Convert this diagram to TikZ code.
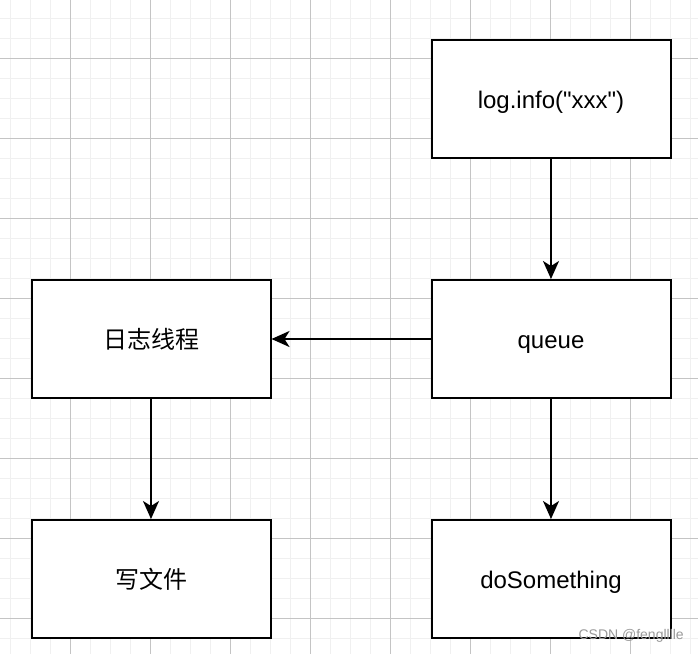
\documentclass[tikz,border=0pt]{standalone}
\usepackage{fontspec}
\setmainfont{Liberation Sans}[Ligatures=TeXOff]
\newfontfamily\cjk{Noto Sans CJK SC}
\usetikzlibrary{arrows.meta}
\definecolor{minorgrid}{HTML}{F0F0F0}
\definecolor{majorgrid}{HTML}{C4C4C4}
\definecolor{wmark}{HTML}{9A9A9A}
\begin{document}
\begin{tikzpicture}[x=1pt,y=-1pt,
  box/.style={draw=black,line width=2pt,fill=white,minimum width=239pt,minimum height=118pt,font=\fontsize{24}{28}\selectfont,inner sep=0pt,text height=19pt,text depth=1pt},
  conn/.style={draw=black,line width=2pt,-{Stealth[length=18pt,width=16pt,inset=5pt]}},
  minor/.style={draw=minorgrid,line width=1pt},
  major/.style={draw=majorgrid,line width=1pt}]
\useasboundingbox (0,0) rectangle (698,654);
\fill[white] (0,0) rectangle (698,654);
% minor grid
\foreach \x in {10,30,...,690} \draw[minor] (\x,0) -- (\x,654);
\foreach \y in {18,38,...,650} \draw[minor] (0,\y) -- (698,\y);
% major grid
\foreach \x in {70,150,...,690} \draw[major] (\x,0) -- (\x,654);
\foreach \y in {58,138,...,650} \draw[major] (0,\y) -- (698,\y);
% boxes
\node[box] (log) at (551,99) {log.info("xxx")};
\node[box] (queue) at (551,339) {queue};
\node[box] (thread) at (151,339) {\cjk 日志线程};
\node[box] (write) at (151,579) {\cjk 写文件};
\node[box] (do) at (551,579) {doSomething};
% connectors
\draw[conn] (log) -- (queue);
\draw[conn] (queue) -- (thread);
\draw[conn] (thread) -- (write);
\draw[conn] (queue) -- (do);
% watermark
\node[anchor=east,inner sep=0pt,text=wmark,font=\fontsize{14}{16}\selectfont] (wm) at (684,636) {CSDN @fenglllle};
\end{tikzpicture}
\end{document}
